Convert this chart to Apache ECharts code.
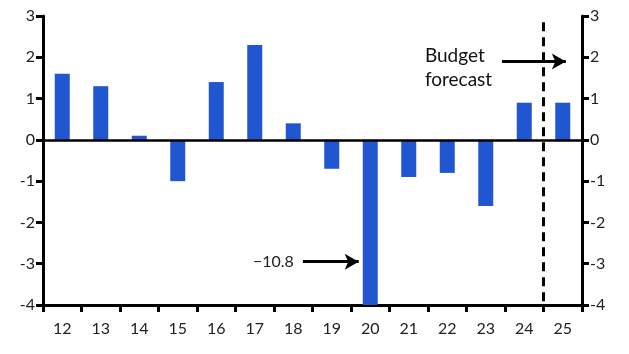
<!DOCTYPE html>
<html>
<head>
<meta charset="utf-8">
<script src="https://cdn.jsdelivr.net/npm/echarts@6/dist/echarts.min.js"></script>
<style>
  html, body { margin: 0; padding: 0; background: #fff; }
  #chart { width: 629px; height: 354px; }
</style>
</head>
<body>
<div id="chart"></div>
<script>
var years = ['12', '13', '14', '15', '16', '17', '18', '19', '20', '21', '22', '23', '24', '25'];
var values = [1.6, 1.3, 0.1, -1.0, 1.4, 2.3, 0.4, -0.7, -10.8, -0.9, -0.8, -1.6, 0.9, 0.9];
var forecastSplit = [[13, 2.85], [13, -4]];   // position on the hidden 0..14 axis
var budgetArrow = [[11.92, 1.9], [13.58, 1.9]];
var budgetText = [[9.92, 1.75]];
var dipArrow = [[6.75, -2.95], [8.2, -2.95]];

var font = 'Lato, "Open Sans", sans-serif';
var txt = '#222';

var yCommon = {
    type: 'value',
    min: -4,
    max: 3,
    interval: 1,
    splitLine: { show: false },
    axisLine: { show: true, lineStyle: { color: '#000', width: 3 } },
    axisTick: { show: true, length: 7, lineStyle: { color: '#000', width: 3 } },
    axisLabel: { color: txt, fontSize: 16, fontFamily: font, margin: 8 }
};

option = {
    backgroundColor: '#fff',
    animation: false,
    grid: { left: 43, right: 47, top: 16, bottom: 49 },
    xAxis: [
        {
            type: 'category',
            data: years,
            axisLine: { show: true, onZero: false, lineStyle: { color: '#000', width: 3 } },
            axisTick: { show: true, length: 7, lineStyle: { color: '#000', width: 3 } },
            axisLabel: { color: txt, fontSize: 16, fontFamily: font, margin: 16 }
        },
        {
            // hidden helper axis for the annotations
            type: 'value', min: 0, max: 14, show: false
        }
    ],
    yAxis: [
        yCommon,
        Object.assign({}, yCommon, { position: 'right' })
    ],
    series: [
        {
            type: 'bar',
            data: values,
            barWidth: 15,
            clip: true,
            itemStyle: { color: '#2057d0' },
            markLine: {
                silent: true,
                symbol: 'none',
                label: { show: false },
                lineStyle: { color: '#000', width: 2.5, type: 'solid' },
                data: [{ yAxis: 0 }]
            }
        },
        {
            type: 'line',
            xAxisIndex: 1,
            data: forecastSplit,
            symbol: 'none',
            lineStyle: { color: '#000', width: 3, type: [9, 6] },
            markLine: {
                silent: true,
                symbol: ['none', 'arrow'],
                symbolSize: [12, 14],
                lineStyle: { color: '#000', width: 3, type: 'solid' },
                label: {
                    show: true,
                    position: 'start',
                    color: txt,
                    fontSize: 16,
                    fontFamily: font,
                    distance: 9
                },
                data: [
                    [{ coord: budgetArrow[0], label: { show: false } }, { coord: budgetArrow[1] }],
                    [{ coord: dipArrow[0], label: { formatter: '\u221210.8' } }, { coord: dipArrow[1] }]
                ]
            }
        },
        {
            type: 'scatter',
            xAxisIndex: 1,
            data: budgetText,
            symbolSize: 0,
            silent: true,
            itemStyle: { opacity: 1 },
            label: {
                show: true,
                position: 'right',
                distance: 0,
                formatter: 'Budget\nforecast',
                color: '#111',
                opacity: 1,
                fontSize: 19,
                fontFamily: font,
                lineHeight: 24,
                align: 'left'
            }
        }
    ]
};

echarts.init(document.getElementById('chart')).setOption(option);
</script>
</body>
</html>
